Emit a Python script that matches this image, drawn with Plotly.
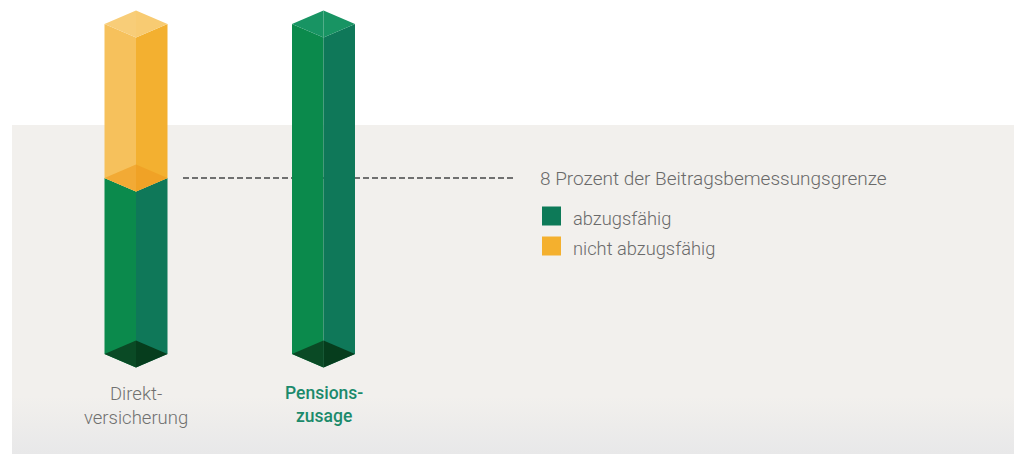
import plotly.graph_objects as go

# ---- data ----
categories = ["Direktversicherung", "Pensionszusage"]
cat_labels = ["Direkt-<br>versicherung", "Pensions-<br>zusage"]
abzugsfaehig = [8, 15]          # percent
nicht_abzugsfaehig = [7, 0]     # percent
grenze = 8                      # Beitragsbemessungsgrenze level
grenze_label = "8 Prozent der Beitragsbemessungsgrenze"
legend_names = ["abzugsfähig", "nicht abzugsfähig"]

# ---- geometry / style ----
W, H = 1014, 454
PX_PER_UNIT = 22.0
BASE_PX = 354.0
y_lo = (BASE_PX - H) / PX_PER_UNIT
y_hi = BASE_PX / PX_PER_UNIT
centers = [136, 323.5]
half_w = 31.5
dz = 13.5 / PX_PER_UNIT   # isometric depth in data units


def px_to_y(p):
    return (BASE_PX - p) / PX_PER_UNIT


BAND = "#f2f0ed"
BAND_BOTTOM = "#e8e8e9"
G_LEFT, G_RIGHT, G_TOP = "#0b8a4c", "#0f7859", "#189463"
G_BOTTOM_L, G_BOTTOM_R = "#0a4a25", "#063d1d"
Y_LEFT, Y_RIGHT = "#f6c15c", "#f3b030"
Y_TOP_L, Y_TOP_R = "#f8cd78", "#f8cb72"
Y_JOIN_L, Y_JOIN_R = "#f2aa35", "#f0a226"
LEG_COLORS = ["#0d7a58", "#f4b02e"]
TEXT_GRAY = "#6a6a6a"

fig = go.Figure()

# bottom gradient of the background band
g_top, g_bot = px_to_y(396), px_to_y(H)
fig.add_trace(go.Scatter(x=[12, W, W, 12, 12], y=[g_top, g_top, g_bot, g_bot, g_top],
                         mode="lines", fill="toself", line=dict(width=0),
                         fillgradient=dict(type="vertical",
                                           colorscale=[[0, BAND_BOTTOM], [1, BAND]],
                                           start=g_bot, stop=g_top),
                         hoverinfo="skip", showlegend=False))


def poly(xs, ys, color):
    fig.add_trace(go.Scatter(x=xs + [xs[0]], y=ys + [ys[0]], mode="lines",
                             fill="toself", fillcolor=color,
                             line=dict(width=0, color=color),
                             hoverinfo="skip", showlegend=False))


def sides(c, a, b, lc, rc):
    L, R = c - half_w, c + half_w
    poly([L, c, c, L], [a, a - dz, b - dz, b], lc)
    poly([c, R, R, c], [a - dz, a, b, b - dz], rc)


def diamond(c, v, col_l, col_r):
    L, R = c - half_w, c + half_w
    poly([L, c, c], [v, v + dz, v - dz], col_l)
    poly([c, R, c], [v + dz, v, v - dz], col_r)


# dashed reference line
fig.add_trace(go.Scatter(x=[183, 513], y=[grenze, grenze], mode="lines",
                         line=dict(color="#707070", width=2, dash="6px,3px"),
                         hoverinfo="skip", showlegend=False))

for i, c in enumerate(centers):
    g = abzugsfaehig[i]
    n = nicht_abzugsfaehig[i]
    sides(c, 0, g, G_LEFT, G_RIGHT)
    if n > 0:
        sides(c, g, g + n, Y_LEFT, Y_RIGHT)
        diamond(c, g, Y_JOIN_L, Y_JOIN_R)
        diamond(c, g + n, Y_TOP_L, Y_TOP_R)
    else:
        diamond(c, g, G_TOP, G_TOP)
    diamond(c, 0, G_BOTTOM_L, G_BOTTOM_R)

# legend (squares + labels)
annotations = []
for k, name in enumerate(legend_names):
    sq_y = px_to_y(216 + 30 * k)
    fig.add_trace(go.Scatter(x=[551.5], y=[sq_y], mode="markers", name=name,
                             marker=dict(symbol="square", size=19, color=LEG_COLORS[k],
                                         line=dict(width=0)),
                             hoverinfo="skip", showlegend=False))
    annotations.append(dict(x=571, y=px_to_y(218 + 30 * k), xref="x", yref="y",
                            text=name, showarrow=False, xanchor="left",
                            yanchor="middle",
                            font=dict(size=18.3, color=TEXT_GRAY, family="Roboto",
                                      weight=300)))

# background band
shapes = [dict(type="rect", xref="paper", yref="paper", x0=12 / W, x1=1,
               y0=0, y1=1 - 125 / H, fillcolor=BAND, line=dict(width=0),
               layer="below")]

annotations.append(dict(x=538, y=grenze, xref="x", yref="y", text=grenze_label,
                        showarrow=False, xanchor="left", yanchor="middle",
                        font=dict(size=19, color=TEXT_GRAY, family="Roboto", weight=300)))
label_styles = [dict(color="#707070", weight=300, size=18.5),
                dict(color="#1b8a6b", weight=500, size=17.5)]
for i, c in enumerate(centers):
    annotations.append(dict(x=c, y=px_to_y(381), xref="x", yref="y",
                            text=cat_labels[i], showarrow=False, xanchor="center",
                            yanchor="top", align="center",
                            font=dict(family="Roboto", **label_styles[i])))

fig.update_layout(
    width=W, height=H, margin=dict(l=0, r=0, t=0, b=0),
    paper_bgcolor="white", plot_bgcolor="rgba(0,0,0,0)",
    xaxis=dict(range=[0, W], visible=False, fixedrange=True),
    yaxis=dict(range=[y_lo, y_hi], visible=False, fixedrange=True),
    shapes=shapes, annotations=annotations,
    showlegend=False,
)

fig.write_html("out.html", config={"displayModeBar": False},
               post_script="document.body.style.margin='0px';")
